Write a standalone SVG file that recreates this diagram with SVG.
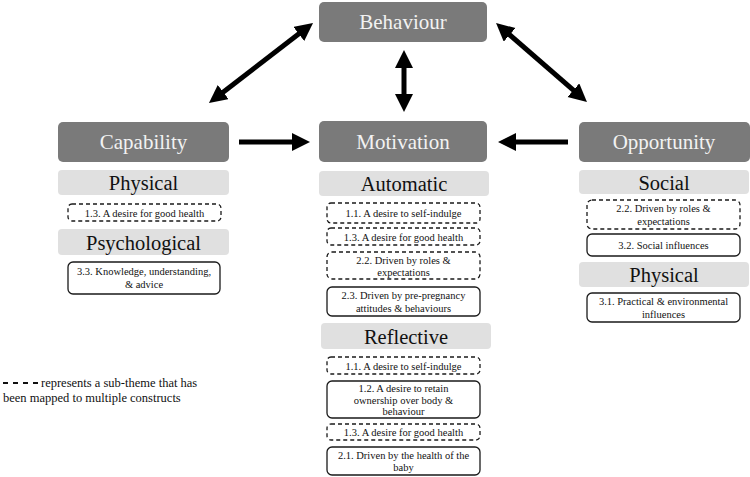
<svg xmlns="http://www.w3.org/2000/svg" width="750" height="477" viewBox="0 0 750 477">
<defs>
<style>
.dark{fill:#7a7a7a}
.light{fill:#e0e0e0}
.box{fill:#fff;stroke:#1a1a1a;stroke-width:1.3}
.dash{stroke-dasharray:4 3}
text{font-family:'Liberation Serif','DejaVu Serif',serif}
.t1{font-size:21px;fill:#f2f2f2;text-anchor:middle}
.t2{font-size:20.5px;fill:#111;text-anchor:middle}
.t3{font-size:10.5px;fill:#111;text-anchor:middle}
.leg{font-size:12.5px;fill:#111}
.arr{stroke:#000;stroke-width:5;fill:none}
</style>
<marker id="ah" markerUnits="userSpaceOnUse" markerWidth="20" markerHeight="20" refX="8" refY="9" orient="auto-start-reverse">
<path d="M0,0 L18,9 L0,18 Z" fill="#000"/>
</marker>
</defs>
<rect width="750" height="477" fill="#fff"/>

<g id="connectors">
<line class="arr" x1="305.1" y1="29.1" x2="216.9" y2="96.9" marker-start="url(#ah)" marker-end="url(#ah)"/>
<line class="arr" x1="503.6" y1="29.6" x2="579.4" y2="95.4" marker-start="url(#ah)" marker-end="url(#ah)"/>
<line class="arr" x1="404" y1="60" x2="404" y2="102" marker-start="url(#ah)" marker-end="url(#ah)"/>
<line class="arr" x1="239" y1="142" x2="300" y2="142" marker-end="url(#ah)"/>
<line class="arr" x1="568" y1="142" x2="508" y2="142" marker-end="url(#ah)"/>
</g>

<g id="behaviour">
<rect class="dark" x="319" y="2" width="168" height="40" rx="5"/>
<text class="t1" x="403" y="29">Behaviour</text>
</g>
<g id="motivation">
<rect class="dark" x="319" y="121" width="168" height="41" rx="5"/>
<text class="t1" x="403" y="149">Motivation</text>
</g>
<g id="capability">
<rect class="dark" x="58" y="122" width="171" height="40" rx="5"/>
<text class="t1" x="143.5" y="149">Capability</text>
</g>
<g id="opportunity">
<rect class="dark" x="579" y="122" width="171" height="40" rx="5"/>
<text class="t1" x="664" y="149">Opportunity</text>
</g>

<g id="cap-physical">
<rect class="light" x="58" y="170" width="171" height="25" rx="4"/>
<text class="t2" x="143.5" y="190">Physical</text>
</g>
<g id="cap-1-3">
<rect class="box dash" x="68" y="204" width="153" height="17" rx="4"/>
<text class="t3" x="144.5" y="216.5">1.3. A desire for good health</text>
</g>
<g id="cap-psychological">
<rect class="light" x="58" y="229" width="171" height="26" rx="4"/>
<text class="t2" x="143.5" y="249.5">Psychological</text>
</g>
<g id="cap-3-3">
<rect class="box" x="68" y="262" width="152" height="32" rx="5"/>
<text class="t3" x="144" y="275">3.3. Knowledge, understanding,</text>
<text class="t3" x="144" y="288">&amp; advice</text>
</g>

<g id="mot-automatic">
<rect class="light" x="319" y="171" width="170" height="25" rx="4"/>
<text class="t2" x="404" y="191">Automatic</text>
</g>
<g id="aut-1-1">
<rect class="box dash" x="327" y="203" width="153" height="20" rx="4"/>
<text class="t3" x="403.5" y="217">1.1. A desire to self-indulge</text>
</g>
<g id="aut-1-3">
<rect class="box dash" x="327" y="228" width="153" height="17" rx="4"/>
<text class="t3" x="403.5" y="240.5">1.3. A desire for good health</text>
</g>
<g id="aut-2-2">
<rect class="box dash" x="327" y="252" width="153" height="27" rx="5"/>
<text class="t3" x="403.5" y="263.5">2.2. Driven by roles &amp;</text>
<text class="t3" x="403.5" y="275.5">expectations</text>
</g>
<g id="aut-2-3">
<rect class="box" x="327" y="287" width="153" height="29" rx="5"/>
<text class="t3" x="403.5" y="299">2.3. Driven by pre-pregnancy</text>
<text class="t3" x="403.5" y="311.5">attitudes &amp; behaviours</text>
</g>

<g id="mot-reflective">
<rect class="light" x="321" y="323" width="170" height="26" rx="4"/>
<text class="t2" x="406" y="343.5">Reflective</text>
</g>
<g id="ref-1-1">
<rect class="box dash" x="327" y="357" width="153" height="17" rx="4"/>
<text class="t3" x="403.5" y="369.5">1.1. A desire to self-indulge</text>
</g>
<g id="ref-1-2">
<rect class="box" x="327" y="381" width="153" height="37" rx="5"/>
<text class="t3" x="403.5" y="392">1.2. A desire to retain</text>
<text class="t3" x="403.5" y="403.5">ownership over body &amp;</text>
<text class="t3" x="403.5" y="415">behaviour</text>
</g>
<g id="ref-1-3">
<rect class="box dash" x="327" y="424" width="153" height="16" rx="4"/>
<text class="t3" x="403.5" y="436">1.3. A desire for good health</text>
</g>
<g id="ref-2-1">
<rect class="box" x="327" y="447" width="153" height="28" rx="5"/>
<text class="t3" x="403.5" y="458.5">2.1. Driven by the health of the</text>
<text class="t3" x="403.5" y="470.5">baby</text>
</g>

<g id="opp-social">
<rect class="light" x="579" y="170" width="170" height="24" rx="4"/>
<text class="t2" x="664" y="189.5">Social</text>
</g>
<g id="opp-2-2">
<rect class="box dash" x="587" y="200" width="153" height="29" rx="5"/>
<text class="t3" x="663.5" y="212">2.2. Driven by roles &amp;</text>
<text class="t3" x="663.5" y="224.5">expectations</text>
</g>
<g id="opp-3-2">
<rect class="box" x="587" y="234" width="153" height="22" rx="5"/>
<text class="t3" x="663.5" y="248.5">3.2. Social influences</text>
</g>
<g id="opp-physical">
<rect class="light" x="579" y="262" width="170" height="25" rx="4"/>
<text class="t2" x="664" y="282">Physical</text>
</g>
<g id="opp-3-1">
<rect class="box" x="587" y="293" width="153" height="29" rx="5"/>
<text class="t3" x="663.5" y="305">3.1. Practical &amp; environmental</text>
<text class="t3" x="663.5" y="317.5">influences</text>
</g>

<g id="legend">
<line x1="3" y1="383" x2="38" y2="383" stroke="#111" stroke-width="2.2" stroke-dasharray="5 5"/>
<text class="leg" x="41" y="387">represents a sub-theme that has</text>
<text class="leg" x="3" y="402">been mapped to multiple constructs</text>
</g>
</svg>
